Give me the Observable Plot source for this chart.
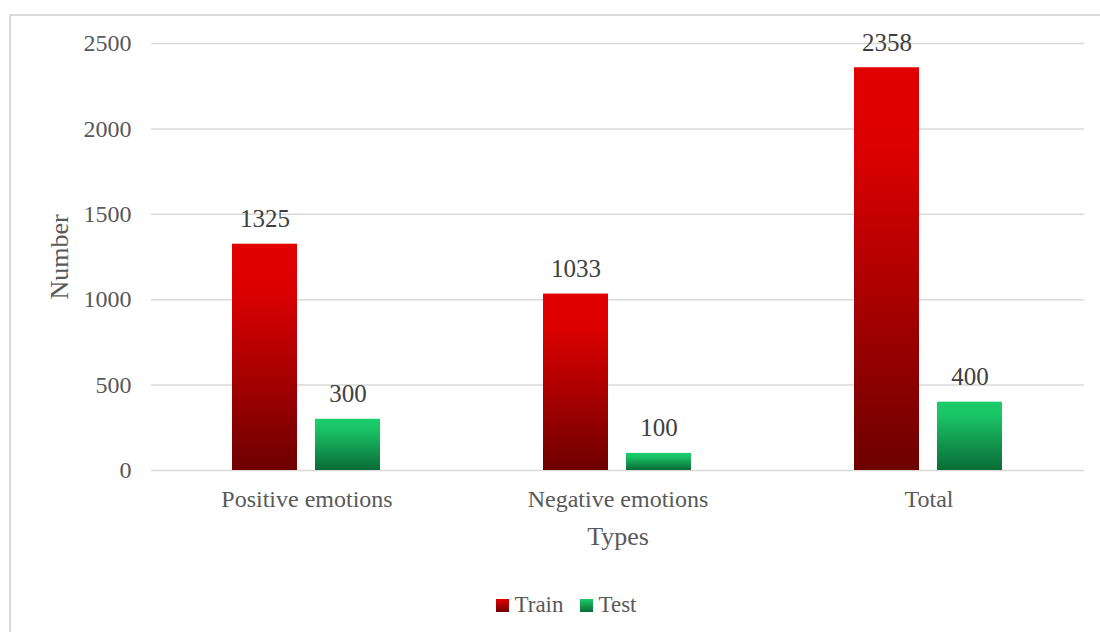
<!DOCTYPE html>
<html>
<head>
<meta charset="utf-8">
<script src="https://cdn.jsdelivr.net/npm/d3@7"></script>
<script src="https://cdn.jsdelivr.net/npm/@observablehq/plot@0.6"></script>
<style>
  body { margin: 0; background: #fff; font-family: "Liberation Serif", "Times New Roman", serif; }
  #wrap { position: relative; width: 1100px; height: 632px; overflow: hidden; }
  #frame { position: absolute; left: 9px; top: 14px; width: 1100px; height: 640px; border: 2px solid #d9d9d9; box-sizing: border-box; pointer-events: none; }
  #chart { position: absolute; left: 0; top: 0; }
  #legend { position: absolute; left: 0; top: 590px; width: 1100px; height: 30px; display: flex; justify-content: center; align-items: center; font-size: 23px; color: #595959; padding-left: 32px; box-sizing: border-box; }
  .sw { display: inline-block; width: 13px; height: 13px; margin-right: 6px; }
  .item { display: flex; align-items: center; margin: 0 8px; }
</style>
</head>
<body>
<div id="wrap">
  <div id="frame"></div>
  <div id="chart"></div>
  <div id="legend"></div>
</div>
<script>
const categories = ["Positive emotions", "Negative emotions", "Total"];
const series = ["Train", "Test"];
const trainValues = [1325, 1033, 2358];
const testValues = [300, 100, 400];
const yTicks = [0, 500, 1000, 1500, 2000, 2500];

const data = categories.flatMap((c, i) => [
  {category: c, series: "Train", value: trainValues[i]},
  {category: c, series: "Test", value: testValues[i]}
]);

const plot = Plot.plot({
  width: 1100,
  height: 580,
  marginTop: 43,
  marginBottom: 110,
  marginLeft: 150,
  marginRight: 15,
  style: {fontFamily: "'Liberation Serif', 'Times New Roman', serif", fontSize: "24px", color: "#595959", background: "transparent", overflow: "visible"},
  fx: {domain: categories, padding: 0},
  x: {domain: series, paddingInner: 0.214, paddingOuter: 0.962, axis: null},
  y: {domain: [0, 2500]},
  marks: [
    Plot.gridY(yTicks, {stroke: "#d9d9d9", strokeOpacity: 1, strokeWidth: 1.5}),
    Plot.axisY(yTicks, {tickSize: 0, tickPadding: 20, fontSize: 24, tickFormat: d3.format("d"), label: "Number", labelAnchor: "center", labelArrow: "none", labelOffset: 102, fill: "#595959"}),
    Plot.axisFx({anchor: "bottom", tickSize: 0, tickPadding: 19, fontSize: 24, label: "Types", labelAnchor: "center", labelArrow: "none", labelOffset: 74, fill: "#595959"}),
    Plot.barY(data.filter(d => d.series === "Train"), {fx: "category", x: "series", y: "value", fill: "#e00000"}),
    Plot.barY(data.filter(d => d.series === "Test"), {fx: "category", x: "series", y: "value", fill: "#1ccc6a"}),
    Plot.text(data, {fx: "category", x: "series", y: "value", text: d => String(d.value), lineAnchor: "bottom", dy: -17, fontSize: 25, fill: "#404040"})
  ]
});

const svg = d3.select(plot);
const defs = svg.insert("defs", ":first-child");
function grad(id, stops) {
  const g = defs.append("linearGradient").attr("id", id).attr("x1", 0).attr("y1", 0).attr("x2", 0).attr("y2", 1);
  stops.forEach(([o, c]) => g.append("stop").attr("offset", o).attr("stop-color", c));
}
grad("gradTrain", [[0, "#e20000"], [0.2, "#dc0000"], [1, "#6e0000"]]);
grad("gradTest", [[0, "#1ccc6a"], [0.2, "#1ac466"], [1, "#0a6b37"]]);
const barGroups = svg.selectAll('g[aria-label="bar"]').nodes();
d3.select(barGroups[0]).attr("fill", "url(#gradTrain)").selectAll("rect").attr("fill", "url(#gradTrain)");
d3.select(barGroups[1]).attr("fill", "url(#gradTest)").selectAll("rect").attr("fill", "url(#gradTest)");
svg.selectAll('g[aria-label="y-axis label"] text, g[aria-label="fx-axis label"] text').attr("font-size", 26);

document.getElementById("chart").appendChild(plot);

const legend = document.getElementById("legend");
[["Train", "linear-gradient(#e20000, #6e0000)"], ["Test", "linear-gradient(#1ccc6a, #0a6b37)"]].forEach(([name, bg]) => {
  const it = document.createElement("span");
  it.className = "item";
  it.innerHTML = `<span class="sw" style="background:${bg}"></span>${name}`;
  legend.appendChild(it);
});
</script>
</body>
</html>
